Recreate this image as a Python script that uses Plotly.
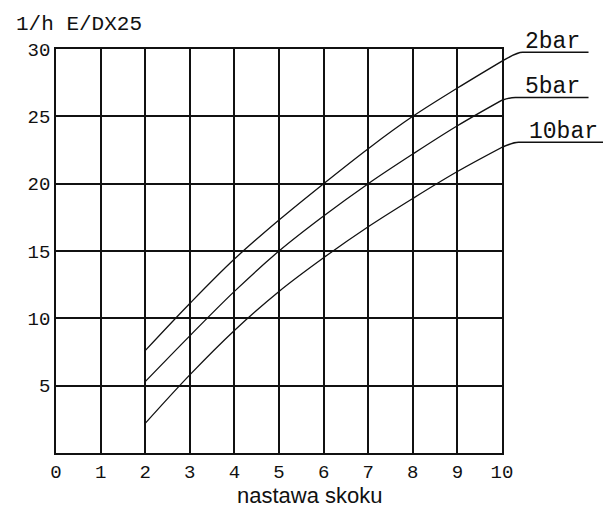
import plotly.graph_objects as go

# ---- data ----
x_vals = [2, 3, 4, 5, 6, 7, 8, 9, 10]
series_names = ["2bar", "5bar", "10bar"]
flow_2bar = [7.6, 11.1, 14.4, 17.3, 20.0, 22.6, 25.0, 27.1, 29.1]
flow_5bar = [5.3, 8.7, 12.0, 15.0, 17.6, 20.0, 22.2, 24.3, 26.2]
flow_10bar = [2.2, 5.8, 9.1, 12.0, 14.5, 16.8, 18.9, 20.9, 22.7]
x_ticks = [0, 1, 2, 3, 4, 5, 6, 7, 8, 9, 10]
y_ticks = [5, 10, 15, 20, 25, 30]
y_title = "1/h E/DX25"
x_title = "nastawa skoku"

series = [flow_2bar, flow_5bar, flow_10bar]

# label placement (layout, in axis units)
label_cfg = [
    dict(bend_x=10.46, end_x=11.94, level=29.75, text_x=10.48),
    dict(bend_x=10.30, end_x=11.94, level=26.4, text_x=10.48),
    dict(bend_x=10.37, end_x=12.30, level=23.07, text_x=10.55),
]

MONO = "Liberation Mono"
X_MIN, X_MAX, Y_MIN, Y_MAX = 0, 10, 0, 30

fig = go.Figure()
for name, vals in zip(series_names, series):
    fig.add_trace(go.Scatter(
        x=x_vals, y=vals, mode="lines", name=name,
        line=dict(color="#111111", width=1.3, shape="spline", smoothing=1.0),
        showlegend=False,
    ))

def px(v):
    return (v - X_MIN) / (X_MAX - X_MIN)

def py(v):
    return (v - Y_MIN) / (Y_MAX - Y_MIN)

shapes = []
annotations = []
for name, vals, cfg in zip(series_names, series, label_cfg):
    shapes.append(dict(type="path", xref="paper", yref="paper",
                       path=f"M {px(x_vals[-1])} {py(vals[-1])} "
                            f"Q {px(cfg['bend_x']-0.12)} {py(cfg['level'])} {px(cfg['bend_x'])} {py(cfg['level'])} "
                            f"L {px(cfg['end_x'])} {py(cfg['level'])}",
                       line=dict(color="#111111", width=1.5)))
    annotations.append(dict(xref="paper", yref="paper", x=px(cfg["text_x"]), y=py(cfg["level"]),
                            xanchor="left", yanchor="bottom", text=name, showarrow=False,
                            font=dict(family=MONO, size=23, color="#111111"), yshift=-5))

annotations.append(dict(xref="paper", yref="paper", x=-0.095, y=1.028, xanchor="left", yanchor="bottom",
                        text=y_title, showarrow=False,
                        font=dict(family=MONO, size=21, color="#111111")))
annotations.append(dict(xref="paper", yref="paper", x=0.57, y=0, xanchor="center", yanchor="top",
                        yshift=-28, text=x_title, showarrow=False,
                        font=dict(family="Liberation Sans", size=22, color="#111111")))

# page body has an 8px default margin, so the figure is sized/offset to compensate
fig.update_layout(
    width=603, height=505,
    margin=dict(l=48, r=109, t=41, b=60),
    paper_bgcolor="white", plot_bgcolor="white",
    shapes=shapes, annotations=annotations,
    xaxis=dict(range=[X_MIN, X_MAX], tickvals=x_ticks, ticktext=[str(t) for t in x_ticks],
               showgrid=True, gridcolor="#111111", gridwidth=1.8, automargin=False,
               showline=True, linecolor="#111111", linewidth=1.8, mirror=True,
               zeroline=False, ticks="", tickfont=dict(family=MONO, size=19, color="#111111")),
    yaxis=dict(range=[Y_MIN, Y_MAX], tickvals=y_ticks, ticktext=[str(t) for t in y_ticks],
               showgrid=True, gridcolor="#111111", gridwidth=1.8, automargin=False,
               showline=True, linecolor="#111111", linewidth=1.8, mirror=True,
               zeroline=False, ticks="", tickfont=dict(family=MONO, size=19, color="#111111")),
)

fig.write_html("out.html")
